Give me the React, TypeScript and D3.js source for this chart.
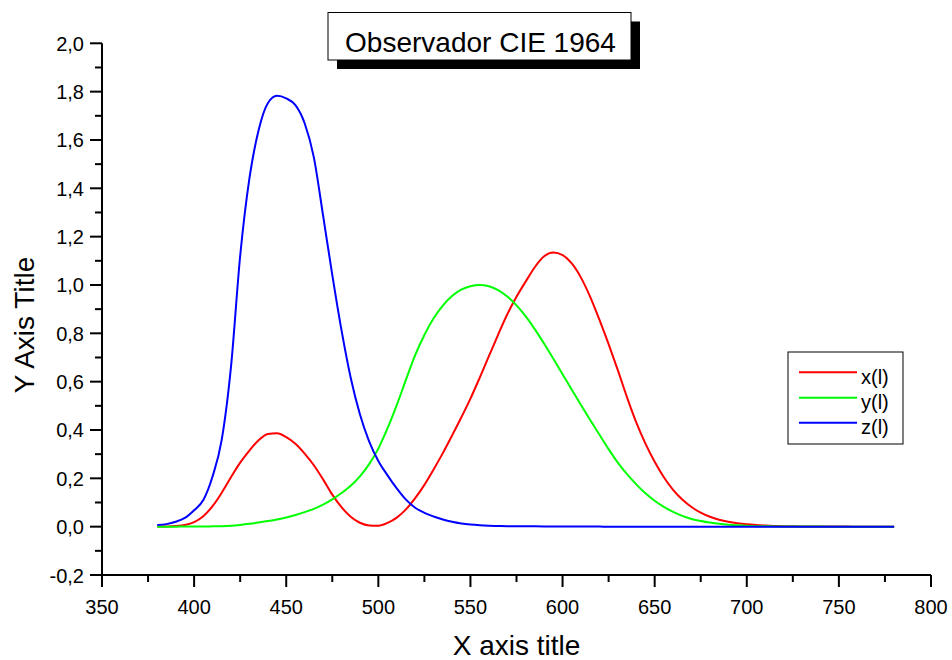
import React from "react";
import * as d3 from "d3";

const wavelengths: number[] = d3.range(380, 781, 5);

const xBar: number[] = [
  0.00016, 0.000662, 0.002362, 0.007242, 0.01911, 0.0434, 0.084736, 0.140638, 0.204492, 0.264737,
  0.314679, 0.357719, 0.383734, 0.386726, 0.370702, 0.342957, 0.302273, 0.254085, 0.195618, 0.132349,
  0.080507, 0.041072, 0.016172, 0.005132, 0.003816, 0.015444, 0.037465, 0.071358, 0.117749, 0.172953,
  0.236491, 0.304213, 0.376772, 0.451584, 0.529826, 0.616053, 0.705224, 0.793832, 0.878655, 0.951162,
  1.01416, 1.0743, 1.11852, 1.1343, 1.12399, 1.0891, 1.03048, 0.95074, 0.856297, 0.75493,
  0.647467, 0.53511, 0.431567, 0.34369, 0.268329, 0.2043, 0.152568, 0.11221, 0.081261, 0.05793,
  0.040851, 0.028623, 0.019941, 0.013842, 0.009577, 0.006605, 0.004553, 0.003145, 0.002175, 0.001506,
  0.001045, 0.000727, 0.000508, 0.000356, 0.000251, 0.000178, 0.000126, 0.00009, 0.000065, 0.000046,
  0.000033,
];

const yBar: number[] = [
  0.000039, 0.000064, 0.00012, 0.000217, 0.000396, 0.00064, 0.00121, 0.00218, 0.004, 0.0073,
  0.0116, 0.01684, 0.023, 0.0298, 0.038, 0.048, 0.06, 0.0739, 0.09098, 0.1126,
  0.13902, 0.1693, 0.20802, 0.2586, 0.323, 0.4073, 0.503, 0.6082, 0.71, 0.7932,
  0.862, 0.91485, 0.954, 0.9803, 0.99495, 1.0, 0.995, 0.9786, 0.952, 0.9154,
  0.87, 0.8163, 0.757, 0.6949, 0.631, 0.5668, 0.503, 0.4412, 0.381, 0.321,
  0.265, 0.217, 0.175, 0.1382, 0.107, 0.0816, 0.061, 0.04458, 0.032, 0.0232,
  0.017, 0.01192, 0.00821, 0.005723, 0.004102, 0.002091, 0.001484, 0.001047, 0.00074, 0.00052,
  0.000361, 0.000249, 0.000172, 0.00012, 0.000085, 0.00006, 0.000042, 0.00003, 0.000021, 0.000015,
  0.000011,
];

const zBar: number[] = [
  0.00645, 0.01055, 0.02005, 0.03621, 0.06785, 0.1102, 0.2074, 0.36, 0.66, 1.12,
  1.44, 1.64, 1.752, 1.7826, 1.77211, 1.7441, 1.6692, 1.5281, 1.28764, 1.0419,
  0.81295, 0.6162, 0.46518, 0.3533, 0.272, 0.2123, 0.1582, 0.1117, 0.07825, 0.05725,
  0.04216, 0.02984, 0.0203, 0.0134, 0.00875, 0.00575, 0.0039, 0.00275, 0.0021, 0.0018,
  0.00165, 0.0014, 0.0011, 0.001, 0.0008, 0.0006, 0.00034, 0.00024, 0.00019, 0.0001,
  0.00005, 0.00003, 0.00002, 0.00001, 0, 0, 0, 0, 0, 0,
  0, 0, 0, 0, 0, 0, 0, 0, 0, 0,
  0, 0, 0, 0, 0, 0, 0, 0, 0, 0,
  0,
];

const seriesNames: string[] = ["x(l)", "y(l)", "z(l)"];
const seriesColors: string[] = ["#ff0000", "#00ff00", "#0000ff"];

const xTicks: number[] = [350, 400, 450, 500, 550, 600, 650, 700, 750, 800];
const xMinorTicks: number[] = [375, 425, 475, 525, 575, 625, 675, 725, 775];
const yTicks: number[] = [-0.2, 0, 0.2, 0.4, 0.6, 0.8, 1.0, 1.2, 1.4, 1.6, 1.8, 2.0];
const yTickLabels: string[] = ["-0,2", "0,0", "0,2", "0,4", "0,6", "0,8", "1,0", "1,2", "1,4", "1,6", "1,8", "2,0"];
const yMinorTicks: number[] = [-0.1, 0.1, 0.3, 0.5, 0.7, 0.9, 1.1, 1.3, 1.5, 1.7, 1.9];

const chartTitle = "Observador CIE 1964";
const xTitle = "X axis title";
const yTitle = "Y Axis Title";

const FONT = "'Liberation Sans', Arial, Helvetica, sans-serif";

export default function App() {
  const W = 952;
  const H = 660;
  const left = 102;
  const right = 931;
  const top = 43.3;
  const bottom = 575;

  const x = d3.scaleLinear().domain([350, 800]).range([left, right]);
  const y = d3.scaleLinear().domain([-0.2, 2.0]).range([bottom, top]);

  const series = [xBar, yBar, zBar];
  const line = d3
    .line<number>()
    .x((_, i) => x(wavelengths[i]))
    .y((d) => y(d))
    .curve(d3.curveMonotoneX);

  const titleBox = { x: 328, y: 12.5, w: 303, h: 47.5 };
  const shadow = 9;
  const legend = { x: 788, y: 352, w: 115, h: 92 };
  const legendRows = [372.3, 397.7, 422.7];

  return (
    <svg
      width={W}
      height={H}
      viewBox={`0 0 ${W} ${H}`}
      style={{ position: "absolute", left: 0, top: 0, background: "#fff" }}
      fontFamily={FONT}
    >
      <rect x={0} y={0} width={W} height={H} fill="#fff" />

      {/* curves */}
      {series.map((s, k) => (
        <path
          key={k}
          d={line(s) || ""}
          fill="none"
          stroke={seriesColors[k]}
          strokeWidth={2}
          strokeLinejoin="round"
        />
      ))}

      {/* y axis */}
      <line x1={left} x2={left} y1={top} y2={bottom} stroke="#000" strokeWidth={2} />
      {yTicks.map((t, i) => (
        <g key={"yt" + i}>
          <line x1={left - 12} x2={left} y1={y(t)} y2={y(t)} stroke="#000" strokeWidth={2} />
          <text x={84} y={y(t) + 7.5} textAnchor="end" fontSize={20} fill="#000">
            {yTickLabels[i]}
          </text>
        </g>
      ))}
      {yMinorTicks.map((t, i) => (
        <line key={"ym" + i} x1={left - 7} x2={left} y1={y(t)} y2={y(t)} stroke="#000" strokeWidth={2} />
      ))}

      {/* x axis */}
      <line x1={left - 1} x2={right} y1={bottom} y2={bottom} stroke="#000" strokeWidth={2} />
      {xTicks.map((t, i) => (
        <g key={"xt" + i}>
          <line x1={x(t)} x2={x(t)} y1={bottom} y2={bottom + 12} stroke="#000" strokeWidth={2} />
          <text x={x(t)} y={614} textAnchor="middle" fontSize={20} fill="#000">
            {String(t)}
          </text>
        </g>
      ))}
      {xMinorTicks.map((t, i) => (
        <line key={"xm" + i} x1={x(t)} x2={x(t)} y1={bottom} y2={bottom + 7} stroke="#000" strokeWidth={2} />
      ))}

      {/* axis titles */}
      <text x={(left + right) / 2} y={655} textAnchor="middle" fontSize={28} fill="#000">
        {xTitle}
      </text>
      <text
        transform={`translate(33.5, 325) rotate(-90)`}
        textAnchor="middle"
        fontSize={28}
        fill="#000"
      >
        {yTitle}
      </text>

      {/* title box */}
      <rect
        x={titleBox.x + shadow}
        y={titleBox.y + shadow}
        width={titleBox.w}
        height={titleBox.h}
        fill="#000"
      />
      <rect
        x={titleBox.x}
        y={titleBox.y}
        width={titleBox.w}
        height={titleBox.h}
        fill="#fff"
        stroke="#000"
        strokeWidth={1}
      />
      <text x={titleBox.x + titleBox.w / 2 + 1} y={51.7} textAnchor="middle" fontSize={28} fill="#000">
        {chartTitle}
      </text>

      {/* legend */}
      <rect
        x={legend.x}
        y={legend.y}
        width={legend.w}
        height={legend.h}
        fill="#fff"
        stroke="#000"
        strokeWidth={1}
      />
      {seriesNames.map((n, i) => (
        <g key={"lg" + i}>
          <line x1={799} x2={857} y1={legendRows[i]} y2={legendRows[i]} stroke={seriesColors[i]} strokeWidth={2} />
          <text x={861} y={legendRows[i] + 11.5} fontSize={20} fill="#000">
            {n}
          </text>
        </g>
      ))}
    </svg>
  );
}
